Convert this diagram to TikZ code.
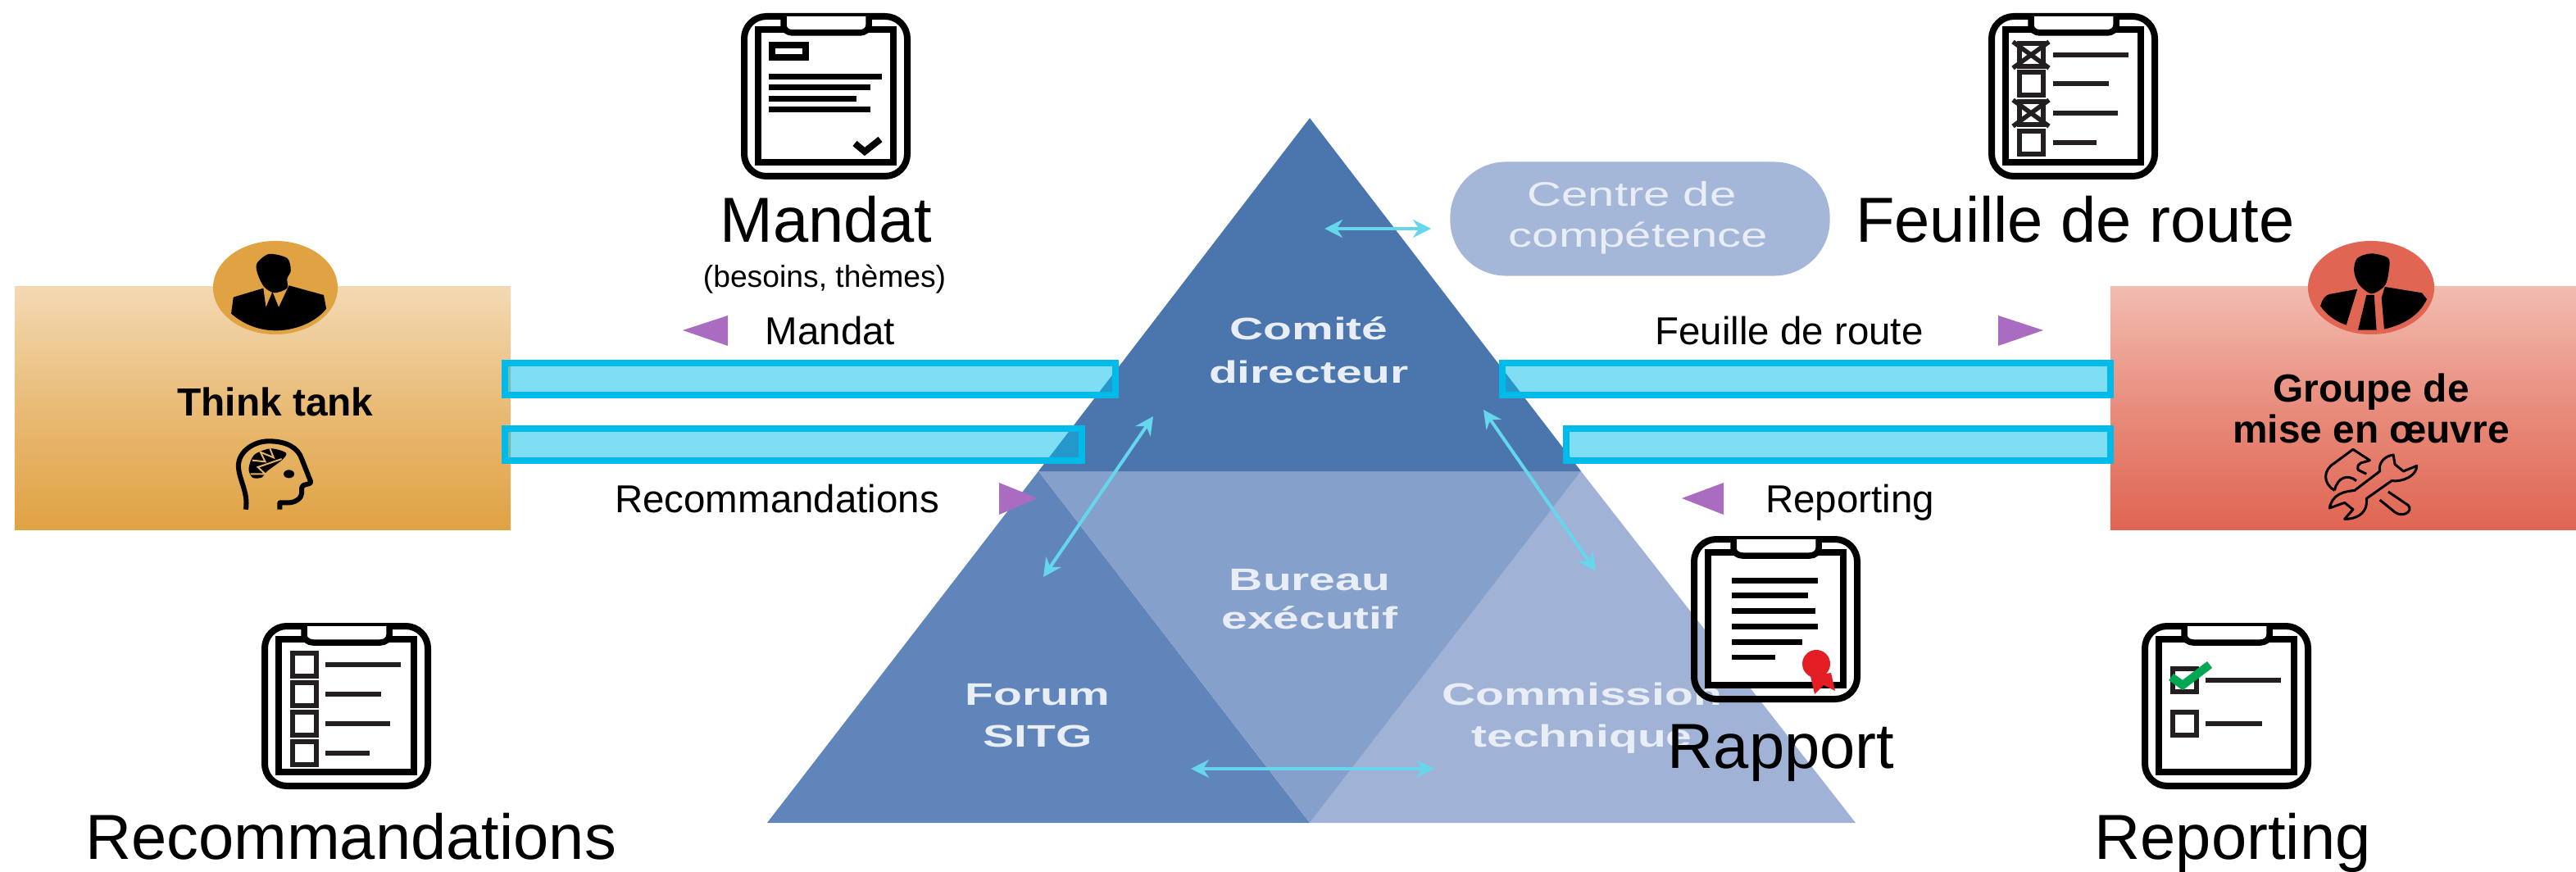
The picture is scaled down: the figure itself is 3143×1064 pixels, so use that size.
\documentclass[tikz,border=0pt]{standalone}
\usepackage{fontspec}
\setmainfont{Liberation Sans}
\usetikzlibrary{arrows.meta}
\definecolor{topblue}{HTML}{4A76AD}
\definecolor{leftblue}{HTML}{6085BB}
\definecolor{midblue}{HTML}{85A0CB}
\definecolor{rightblue}{HTML}{A0B3D6}
\definecolor{pillblue}{HTML}{A5B7D8}
\definecolor{barcyan}{HTML}{00BBE9}
\definecolor{arrowcyan}{HTML}{66D6EC}
\definecolor{purplemark}{HTML}{A96CC0}
\definecolor{orangedark}{HTML}{E0A243}
\definecolor{orangelight}{HTML}{F3D9B3}
\definecolor{reddark}{HTML}{E06552}
\definecolor{redlight}{HTML}{F2BCB0}
\definecolor{greencheck}{HTML}{00A651}
\definecolor{ribbonred}{HTML}{E31E24}
\definecolor{listink}{HTML}{231F20}
\definecolor{paletext}{HTML}{E9EEF6}
\newcommand{\pxfont}[1]{\fontsize{#1}{#1}\selectfont}
\tikzset{
  x=0.01cm,y=-0.01cm,
  bar/.style={draw=barcyan,line width=0.075cm,fill=barcyan,fill opacity=0.5,draw opacity=1},
  tri/.style={fill=purplemark,draw=none},
  dbl/.style={{Stealth[length=0.22cm,width=0.22cm]}-{Stealth[length=0.22cm,width=0.22cm]},draw=arrowcyan,line width=0.04cm},
  biglabel/.style={anchor=base,inner sep=0pt,font=\pxfont{22.1pt}},
  smalllabel/.style={anchor=base,inner sep=0pt,font=\pxfont{13.5pt}},
  tinylabel/.style={anchor=base,inner sep=0pt,font=\pxfont{10.6pt}},
  boldlabel/.style={anchor=base,inner sep=0pt,font=\bfseries\pxfont{13.6pt}},
  pyrlabel/.style={anchor=base,inner sep=0pt,text=paletext,xscale=1.5,transform shape,font=\bfseries\pxfont{10.8pt}},
  pilllabel/.style={anchor=base,inner sep=0pt,text=paletext,xscale=1.4,transform shape,font=\pxfont{11.8pt}},
  rowline/.style={line width=0.065cm,draw=listink},
  rowbox/.style={line width=0.055cm,draw=listink},
  docline/.style={line width=0.07cm,draw=black},
  board/.pic={
    \draw[line width=0.08cm,rounded corners=0.27cm] (5,5) rectangle (204,200);
    \draw[line width=0.075cm,fill=white] (22,21) rectangle (187,183);
    \draw[line width=0.075cm,fill=white] (53,5) -- (53,16) .. controls (53,21) and (58,25) .. (64,25)
       -- (146,25) .. controls (152,25) and (157,21) .. (157,16) -- (157,5);
  },
}
\begin{document}
\begin{tikzpicture}
\useasboundingbox (0,0) rectangle (3143,1064);
% pyramid
\fill[rightblue] (1929,575) -- (2264,1004) -- (1598,1004) -- cycle;
\fill[leftblue] (1267,575) -- (936,1004) -- (1598,1004) -- cycle;
\fill[midblue] (1267,575) -- (1929,575) -- (1598,1004) -- cycle;
\fill[topblue] (1598,144) -- (1929,575) -- (1267,575) -- cycle;
\node[fill=pillblue,rounded corners=0.68cm,minimum width=4.63cm,minimum height=1.39cm,inner sep=0pt] (pill) at (2001,267) {};
\node[pilllabel] (c1) at (1991,252) {Centre de};
\node[pilllabel] (c2) at (1999,302) {compétence};
\node[pyrlabel] (p1) at (1597,415) {Comité};
\node[pyrlabel] (p2) at (1597,467) {directeur};
\node[pyrlabel] (p3) at (1598,720) {Bureau};
\node[pyrlabel] (p4) at (1598,767) {exécutif};
\node[pyrlabel] (p5) at (1266,860) {Forum};
\node[pyrlabel] (p6) at (1266,911) {SITG};
\node[pyrlabel] (p7) at (1930,860) {Commission};
\node[pyrlabel] (p8) at (1930,911) {technique};
% double arrows
\coordinate (a1) at (1616,279); \coordinate (a2) at (1746,279);
\coordinate (b1) at (1407,508); \coordinate (b2) at (1273,704);
\coordinate (d1) at (1810,500); \coordinate (d2) at (1947,697);
\coordinate (e1) at (1453,938); \coordinate (e2) at (1750,938);
\draw[dbl] (a1) -- (a2);
\draw[dbl] (b1) -- (b2);
\draw[dbl] (d1) -- (d2);
\draw[dbl] (e1) -- (e2);
% boxes
\node[inner sep=0pt,minimum width=6.05cm,minimum height=2.96cm,top color=orangelight,bottom color=orangedark,middle color=orangelight!45!orangedark] (think) at (320.5,498) {};
\node[inner sep=0pt,minimum width=5.69cm,minimum height=2.96cm,top color=redlight,bottom color=reddark,middle color=redlight!45!reddark] (groupe) at (2859.5,498) {};
\fill[orangedark] (336,351) ellipse (0.76cm and 0.57cm);
\fill[reddark] (2893,351) ellipse (0.77cm and 0.57cm);
% bars
\draw[bar] (616,443) rectangle (1361,482);
\draw[bar] (616,523) rectangle (1320,562);
\draw[bar] (1833,443) rectangle (2575,482);
\draw[bar] (1911,523) rectangle (2575,562);
% purple markers
\fill[tri] (833,403) -- (888,385) -- (888,422) -- cycle;
\fill[tri] (2493,403) -- (2438,385) -- (2438,422) -- cycle;
\fill[tri] (1266,608) -- (1219,589) -- (1219,628) -- cycle;
\fill[tri] (2052,608) -- (2103,589) -- (2103,628) -- cycle;
% person 1 + brain
\begin{scope}[shift={(0,280)},x=0.01cm/2.24,y=-0.01cm/3]
  \fill[black] plot[smooth cycle] coordinates {(735,90) (785,105) (795,150) (785,180) (785,215) (750,232) (722,210) (705,165) (702,125)};
  \fill[black] (632,308) -- (638,248) -- (720,215) -- (727,285) -- (745,228) -- (762,285) -- (790,205) -- (885,240) -- (892,290) .. controls (860,345) and (800,370) .. (755,370) .. controls (700,370) and (660,340) .. (632,308) -- cycle;
  \draw[line width=0.06cm,line join=round] (672,1025) .. controls (680,960) and (650,910) .. (652,860) .. controls (655,810) and (695,775) .. (735,775) .. controls (785,775) and (815,800) .. (825,840) -- (850,925) .. controls (850,935) and (825,930) .. (825,945) -- (825,965) .. controls (825,985) and (805,1000) .. (790,1000) -- (765,1000) -- (765,1025);
  \fill[black] (790,895) ellipse (0.065cm and 0.05cm);
  \fill[black] plot[smooth cycle] coordinates {(680,875) (695,825) (740,802) (782,818) (770,845) (730,885) (715,908) (690,908)};
  \draw[orangedark!70!orangelight,line width=0.02cm] (738,802) -- (748,835) -- (712,815) -- (725,850) -- (690,845);
  \draw[orangedark!70!orangelight,line width=0.02cm] (685,895) -- (725,895) -- (705,870) -- (770,840);
\end{scope}
% person 2 + tools
\begin{scope}[shift={(2500,280)},x=0.01cm/2.44,y=-0.01cm/3]
  \fill[black] plot[smooth cycle] coordinates {(960,88) (1010,105) (1012,150) (1000,205) (960,235) (922,200) (908,150) (918,105)};
  \fill[black] (808,280) .. controls (815,250) and (825,240) .. (835,237) -- (918,218) -- (885,350) .. controls (850,335) and (825,310) .. (808,280) -- cycle;
  \fill[black] (1000,210) -- (1110,232) -- (1125,255) .. controls (1100,320) and (1050,350) .. (998,365) -- (990,250) -- cycle;
  \fill[black] (945,240) -- (968,240) -- (975,368) -- (920,368) -- cycle;
  \draw[line width=0.03cm,line join=round] (1025,825) .. controls (995,830) and (980,860) .. (985,885) -- (910,955) .. controls (880,960) and (845,965) .. (835,1020) -- (880,1000) -- (905,1025) -- (880,1060) .. controls (925,1060) and (950,1030) .. (945,985) -- (1020,920) .. controls (1055,925) and (1095,900) .. (1095,865) -- (1055,885) -- (1030,860) -- cycle;
  \draw[line width=0.03cm,line join=round] (850,955) .. controls (815,930) and (815,880) .. (850,855) -- (905,805) -- (955,845) .. controls (935,855) and (915,850) .. (920,880) -- (945,895);
  \draw[line width=0.03cm] (850,955) .. controls (860,905) and (890,895) .. (915,920);
  \draw[line width=0.03cm,line join=round] (1010,960) -- (1070,1010) .. controls (1085,1035) and (1050,1055) .. (1030,1035) -- (985,990);
\end{scope}
% clipboards
\begin{scope}[shift={(903,15)}]
  \pic at (0,0) {board};
  \draw[line width=0.085cm] (39,40) rectangle (80,55);
  \draw[docline] (35,79) -- (173,79);
  \draw[docline] (35,92) -- (159,92);
  \draw[docline] (35,106) -- (142,106);
  \draw[docline] (35,119) -- (159,119);
  \draw[line width=0.08cm] (140,160) -- (152,170) -- (171,155);
\end{scope}
\begin{scope}[shift={(2425,15)}]
  \pic at (0,0) {board};
  \draw[rowbox] (39,38) rectangle (68,66);
  \draw[rowbox] (39,73) rectangle (68,101);
  \draw[rowbox] (39,109) rectangle (68,137);
  \draw[rowbox] (39,145) rectangle (68,173);
  \draw[rowline] (80,52) -- (172,52);
  \draw[rowline] (80,87) -- (148,87);
  \draw[rowline] (80,123) -- (159,123);
  \draw[rowline] (80,159) -- (133,159);
  \draw[rowbox] (31,36) -- (75,68);
  \draw[rowbox] (75,36) -- (31,68);
  \draw[rowbox] (31,107) -- (75,139);
  \draw[rowbox] (75,107) -- (31,139);
\end{scope}
\begin{scope}[shift={(318,759)}]
  \pic at (0,0) {board};
  \draw[rowbox] (39,38) rectangle (68,66);
  \draw[rowbox] (39,74) rectangle (68,102);
  \draw[rowbox] (39,110) rectangle (68,138);
  \draw[rowbox] (39,146) rectangle (68,174);
  \draw[rowline] (79,52) -- (171,52);
  \draw[rowline] (79,88) -- (147,88);
  \draw[rowline] (79,124) -- (158,124);
  \draw[rowline] (79,160) -- (133,160);
\end{scope}
\begin{scope}[shift={(2612,759)}]
  \pic at (0,0) {board};
  \draw[rowbox] (39,57) rectangle (68,85);
  \draw[rowbox] (39,110) rectangle (68,138);
  \draw[rowline] (79,71) -- (171,71);
  \draw[rowline] (79,124) -- (148,124);
  \draw[greencheck,line width=0.1cm] (37,67) -- (51,77) -- (84,52);
\end{scope}
\begin{scope}[shift={(2062,653)}]
  \pic at (0,0) {board};
  \draw[docline] (51,55) -- (156,55);
  \draw[docline] (51,73) -- (144,73);
  \draw[docline] (51,92) -- (153,92);
  \draw[docline] (51,111) -- (156,111);
  \draw[docline] (51,130) -- (137,130);
  \draw[line width=0.055cm] (51,149) -- (104,149);
  \fill[ribbonred] (147,172) -- (172,168) -- (177,190) -- (163,183) -- (152,194) -- cycle;
  \fill[ribbonred] (154,157) circle (0.17cm);
\end{scope}
% labels
\node[biglabel] (t1) at (1008,296) {Mandat};
\node[tinylabel] (t2) at (1006,351) {(besoins, thèmes)};
\node[smalllabel] (t3) at (1013,420) {Mandat};
\node[biglabel] (t4) at (2532,296) {Feuille de route};
\node[smalllabel] (t5) at (2183,420) {Feuille de route};
\node[smalllabel] (t6) at (948,625) {Recommandations};
\node[smalllabel] (t7) at (2257,625) {Reporting};
\node[biglabel] (t8) at (2173,937) {Rapport};
\node[biglabel] (t9) at (428,1048) {Recommandations};
\node[biglabel] (t10) at (2724,1048) {Reporting};
\node[boldlabel] (t11) at (336,508) {Think tank};
\node[boldlabel] (t12) at (2893,491) {Groupe de};
\node[boldlabel] (t13) at (2893,540) {mise en œuvre};
\end{tikzpicture}
\end{document}
